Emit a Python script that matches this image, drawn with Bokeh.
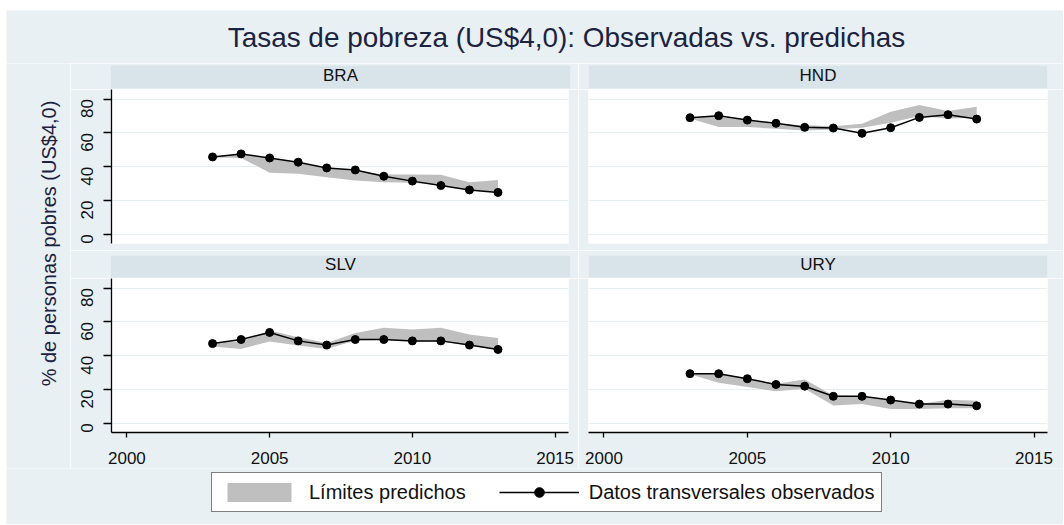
from math import pi
from bokeh.plotting import figure
from bokeh.layouts import row, column
from bokeh.models import (Range1d, FixedTicker, Label, Legend, LegendItem,
                          ColumnDataSource, LinearAxis, Grid)
from bokeh.embed import file_html
from bokeh.resources import INLINE

# ---------------- data ----------------
years = [2003, 2004, 2005, 2006, 2007, 2008, 2009, 2010, 2011, 2012, 2013]
countries = ["BRA", "HND", "SLV", "URY"]

bra_obs = [45.8, 47.6, 45.2, 42.7, 39.3, 38.1, 34.4, 31.5, 28.9, 26.3, 24.8]
bra_lo = [45.5, 45.2, 36.5, 35.8, 33.8, 31.8, 30.9, 30.6, 28.9, 26.3, 24.8]
bra_hi = [46.0, 47.5, 45.0, 42.5, 39.0, 37.7, 35.4, 35.4, 35.2, 30.9, 32.2]

hnd_obs = [69.0, 70.2, 67.6, 65.7, 63.3, 62.9, 59.8, 63.1, 69.2, 70.8, 68.2]
hnd_lo = [68.5, 63.5, 63.5, 62.5, 61.5, 62.0, 63.0, 66.0, 70.0, 68.5, 69.0]
hnd_hi = [69.5, 69.5, 67.5, 65.5, 64.5, 64.0, 65.5, 72.5, 76.5, 73.0, 75.5]

slv_obs = [47.2, 49.6, 53.8, 48.8, 46.3, 49.6, 49.6, 48.8, 48.8, 46.3, 43.7]
slv_lo = [45.5, 44.0, 48.5, 46.0, 44.0, 49.0, 49.5, 48.5, 48.5, 46.0, 43.5]
slv_hi = [48.0, 48.5, 55.0, 51.0, 47.5, 53.5, 56.5, 55.5, 56.5, 52.5, 50.5]

ury_obs = [29.4, 29.4, 26.4, 23.0, 22.0, 16.0, 16.0, 13.8, 11.4, 11.4, 10.4]
ury_lo = [29.0, 24.0, 21.5, 19.0, 20.5, 10.5, 11.4, 8.5, 8.5, 9.0, 9.0]
ury_hi = [30.0, 29.5, 26.5, 23.5, 26.0, 16.5, 16.0, 13.5, 11.5, 14.0, 13.4]

x_ticks = [2000, 2005, 2010, 2015]
y_ticks = [0, 20, 40, 60, 80]

title_text = "Tasas de pobreza (US$4,0): Observadas vs. predichas"
y_title = "% de personas pobres (US$4,0)"
legend_band = "Límites predichos"
legend_line = "Datos transversales observados"

# ---------------- style ----------------
BG = "#E8F0F3"
STRIP = "#D8E4EA"
BAND = "#BFBFBF"
GRID = "#E6EEF2"
NAVY = "#1C2340"
FONT = "Liberation Sans"
X0, X1 = 1999.46, 2015.47
Y0, Y1 = -5.4, 85.7
NAN = float("nan")

LEFT_W, RIGHT_W, YT_W = 508, 485, 64
TOTAL_W = YT_W + LEFT_W + RIGHT_W


def panel(lo, hi, obs, w, h, bl, br, bb, yaxis, xaxis):
    p = figure(width=w, height=h, x_range=Range1d(X0, X1), y_range=Range1d(Y0, Y1),
               output_backend="svg", toolbar_location=None, title=None,
               x_axis_location=None, y_axis_location=None,
               min_border_left=bl, min_border_right=br, min_border_top=0,
               min_border_bottom=bb)
    p.background_fill_color = "white"
    p.border_fill_color = BG
    p.outline_line_color = None
    p.grid.visible = False
    p.add_layout(Grid(dimension=1, ticker=FixedTicker(ticks=y_ticks),
                      grid_line_color=GRID, grid_line_width=1.2))
    if yaxis:
        ax = LinearAxis(ticker=FixedTicker(ticks=y_ticks),
                        axis_line_color="black", axis_line_width=1.3,
                        major_tick_line_color="black", major_tick_line_width=1.3,
                        major_tick_out=8, major_tick_in=0,
                        minor_tick_line_color=None,
                        major_label_text_font_size="17px",
                        major_label_text_font=FONT,
                        major_label_text_color="#111111",
                        major_label_orientation=pi / 2,
                        major_label_standoff=16)
        p.add_layout(ax, "left")
    if xaxis:
        ax = LinearAxis(ticker=FixedTicker(ticks=x_ticks),
                        axis_line_color="black", axis_line_width=1.3,
                        major_tick_line_color="black", major_tick_line_width=1.3,
                        major_tick_out=5, major_tick_in=0,
                        minor_tick_line_color=None,
                        major_label_text_font_size="17px",
                        major_label_text_font=FONT,
                        major_label_text_color="#111111",
                        major_label_standoff=14)
        p.add_layout(ax, "below")
    src = ColumnDataSource(dict(year=years, lo=lo, hi=hi, obs=obs))
    p.varea(x="year", y1="lo", y2="hi", source=src, fill_color=BAND, fill_alpha=1.0)
    p.line(x="year", y="obs", source=src, line_color="black", line_width=1.5)
    p.scatter(x="year", y="obs", source=src, marker="circle", size=8,
              fill_color="black", line_color="black")
    return p


def strip(label, w, bl, br, h, bt, ty):
    s = figure(width=w, height=h, x_range=Range1d(0, 1), y_range=Range1d(0, 1),
               output_backend="svg", toolbar_location=None, title=None,
               x_axis_location=None, y_axis_location=None,
               min_border_left=bl, min_border_right=br, min_border_top=bt,
               min_border_bottom=1)
    s.background_fill_color = STRIP
    s.border_fill_color = BG
    s.outline_line_color = None
    s.grid.visible = False
    s.add_layout(Label(x=0.5, y=ty, y_units="screen", text=label,
                       text_align="center", text_baseline="middle",
                       text_font_size="17px", text_font=FONT, text_color="#111111"))
    return s


def blank(w, h):
    f = figure(width=w, height=h, x_range=Range1d(0, 1), y_range=Range1d(0, 1),
               output_backend="svg", toolbar_location=None, title=None,
               x_axis_location=None, y_axis_location=None, min_border=0)
    f.background_fill_color = BG
    f.border_fill_color = BG
    f.outline_line_color = None
    f.grid.visible = False
    return f


# title
tf = blank(TOTAL_W, 53)
tf.add_layout(Label(x=560, y=26, x_units="screen", y_units="screen", text=title_text,
                    text_align="center", text_baseline="middle",
                    text_font_size="27.9px", text_font=FONT, text_color=NAVY))

# y title
yf = blank(YT_W, 405)
yf.add_layout(Label(x=42, y=225, x_units="screen", y_units="screen", text=y_title,
                    angle=pi / 2, text_align="center", text_baseline="middle",
                    text_font_size="20px", text_font=FONT, text_color=NAVY))

s1 = strip(countries[0], LEFT_W, 40, 8, 26, 2, 13)
s2 = strip(countries[1], RIGHT_W, 10, 16, 26, 2, 13)
s3 = strip(countries[2], LEFT_W, 40, 8, 28, 5, 13.5)
s4 = strip(countries[3], RIGHT_W, 10, 16, 28, 5, 13.5)

p1 = panel(bra_lo, bra_hi, bra_obs, LEFT_W, 161, 41, 10, 7, True, False)
p2 = panel(hnd_lo, hnd_hi, hnd_obs, RIGHT_W, 161, 10, 16, 7, False, False)
p3 = panel(slv_lo, slv_hi, slv_obs, LEFT_W, 190, 41, 10, 36, True, True)
p4 = panel(ury_lo, ury_hi, ury_obs, RIGHT_W, 190, 10, 16, 36, False, True)

# legend
lf = blank(TOTAL_W, 56)
va = lf.varea(x=[NAN], y1=[NAN], y2=[NAN], fill_color=BAND, fill_alpha=1.0)
ln = lf.line(x=[NAN], y=[NAN], line_color="black", line_width=1.5)
sc = lf.scatter(x=[NAN], y=[NAN], marker="circle", size=8,
                fill_color="black", line_color="black")
leg = Legend(items=[LegendItem(label=legend_band, renderers=[va]),
                    LegendItem(label=legend_line, renderers=[ln, sc])],
             orientation="horizontal", location=(205, 12),
             glyph_width=80, glyph_height=24, label_standoff=10, spacing=33,
             padding=7, margin=0, border_line_color="black", border_line_width=1.5,
             background_fill_color="white", background_fill_alpha=1.0,
             label_text_font_size="20px", label_text_font=FONT,
             label_text_color="#111111")
lf.add_layout(leg)

grid_col = column(row(s1, s2), row(p1, p2), row(s3, s4), row(p3, p4))
layout = column(tf, row(yf, grid_col), lf, margin=(10, 0, 0, 6))

with open("out.html", "w") as fh:
    fh.write(file_html(layout, INLINE, title="Tasas de pobreza"))
